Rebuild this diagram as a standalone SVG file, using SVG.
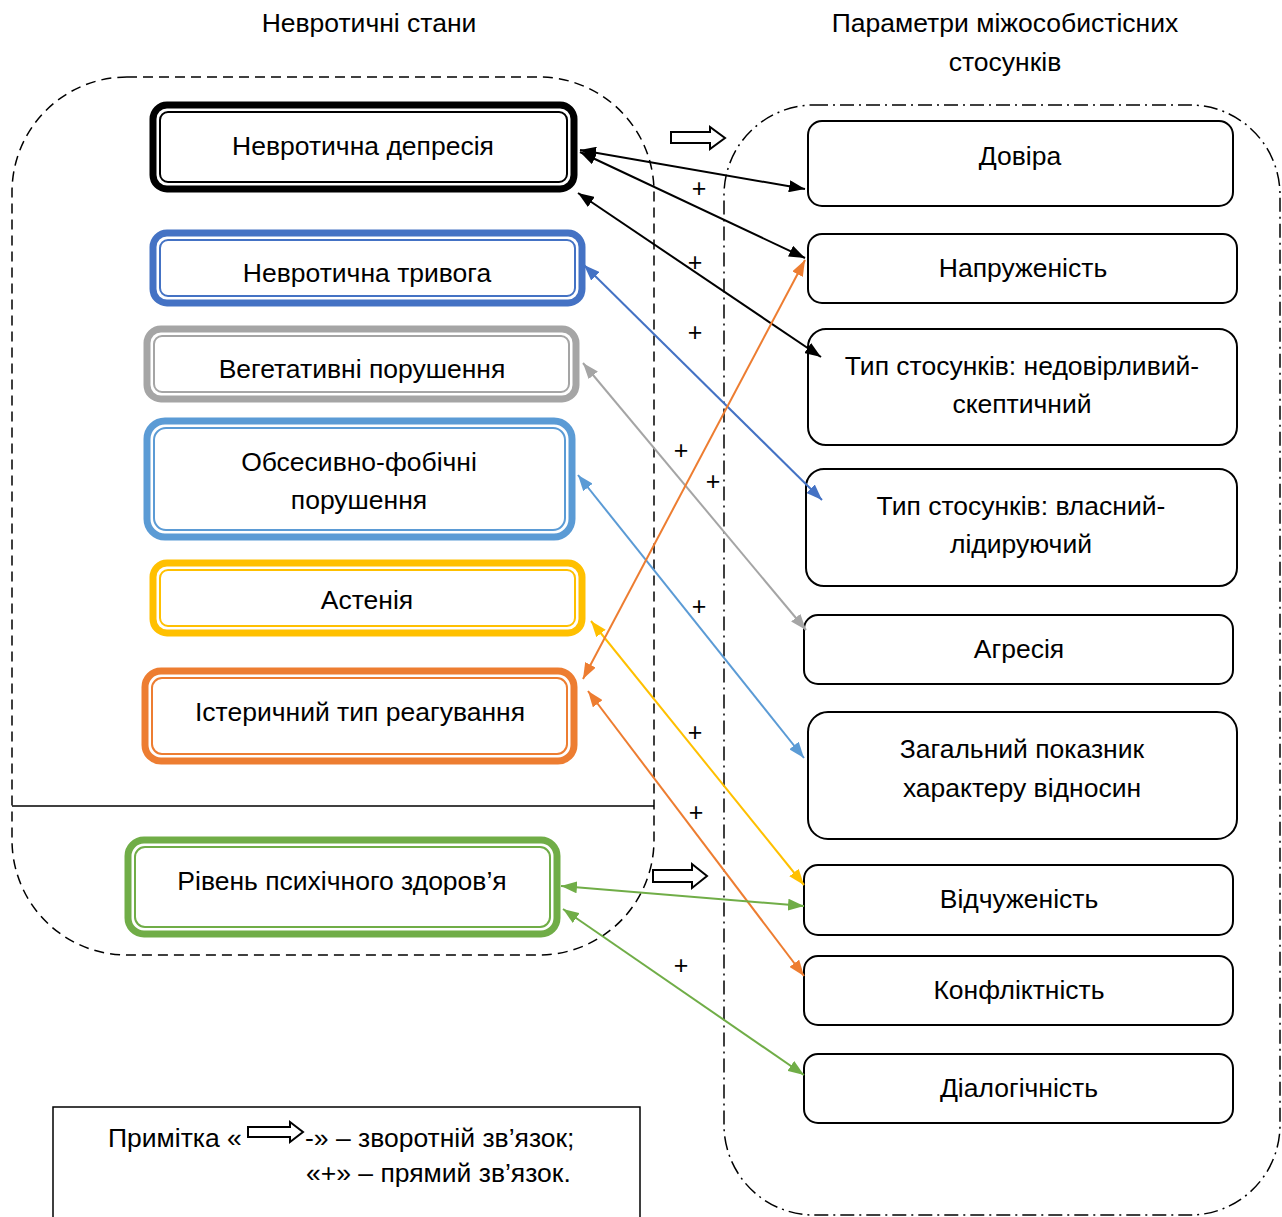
<svg xmlns="http://www.w3.org/2000/svg" width="1282" height="1217" viewBox="0 0 1282 1217">
<style>
text{font-family:"Liberation Sans",Arial,sans-serif;font-size:26.5px;fill:#000;text-anchor:middle}
.plus{font-size:25px}
.ob{fill:#fff;stroke-width:7}
.ib{fill:none;stroke-width:2}
.rn{fill:#fff;stroke:#000;stroke-width:2}
.c{fill:none;stroke-width:2}
.hollow{fill:#fff;stroke:#000;stroke-width:2}
</style>
<defs>
<marker id="mk" viewBox="0 0 16 12" refX="16" refY="6" markerWidth="16" markerHeight="12" markerUnits="userSpaceOnUse" orient="auto-start-reverse"><path d="M0,0 L16,6 L0,12 z" fill="#000"/></marker>
<marker id="mb" viewBox="0 0 16 12" refX="16" refY="6" markerWidth="16" markerHeight="12" markerUnits="userSpaceOnUse" orient="auto-start-reverse"><path d="M0,0 L16,6 L0,12 z" fill="#4472C4"/></marker>
<marker id="mg" viewBox="0 0 16 12" refX="16" refY="6" markerWidth="16" markerHeight="12" markerUnits="userSpaceOnUse" orient="auto-start-reverse"><path d="M0,0 L16,6 L0,12 z" fill="#A5A5A5"/></marker>
<marker id="ml" viewBox="0 0 16 12" refX="16" refY="6" markerWidth="16" markerHeight="12" markerUnits="userSpaceOnUse" orient="auto-start-reverse"><path d="M0,0 L16,6 L0,12 z" fill="#5B9BD5"/></marker>
<marker id="my" viewBox="0 0 16 12" refX="16" refY="6" markerWidth="16" markerHeight="12" markerUnits="userSpaceOnUse" orient="auto-start-reverse"><path d="M0,0 L16,6 L0,12 z" fill="#FFC000"/></marker>
<marker id="mo" viewBox="0 0 16 12" refX="16" refY="6" markerWidth="16" markerHeight="12" markerUnits="userSpaceOnUse" orient="auto-start-reverse"><path d="M0,0 L16,6 L0,12 z" fill="#ED7D31"/></marker>
<marker id="mgr" viewBox="0 0 16 12" refX="16" refY="6" markerWidth="16" markerHeight="12" markerUnits="userSpaceOnUse" orient="auto-start-reverse"><path d="M0,0 L16,6 L0,12 z" fill="#70AD47"/></marker>
</defs>
<rect width="1282" height="1217" fill="#fff"/>

<!-- titles -->
<text x="369" y="32">Невротичні стани</text>
<text x="1005" y="32">Параметри міжособистісних</text>
<text x="1005" y="71">стосунків</text>

<!-- containers -->
<g id="containers">
<rect x="12" y="77" width="642" height="878" rx="115" ry="115" fill="none" stroke="#000" stroke-width="1.5" stroke-dasharray="10 6"/>
<line x1="12" y1="806" x2="654" y2="806" stroke="#000" stroke-width="1.5"/>
<rect x="724" y="105" width="556" height="1110" rx="90" ry="90" fill="none" stroke="#000" stroke-width="1.5" stroke-dasharray="14 5 2 5"/>
</g>

<!-- left nodes -->
<g id="n-depresiia">
<rect class="ob" x="153" y="105" width="421" height="84" rx="14" stroke="#000" stroke-width="8"/>
<rect class="ib" x="160" y="112" width="407" height="70" rx="8" stroke="#000"/>
<text x="363" y="155">Невротична депресія</text>
</g>
<g id="n-tryvoha">
<rect class="ob" x="153" y="233" width="429" height="70" rx="14" stroke="#4472C4"/>
<rect class="ib" x="160" y="240" width="415" height="56" rx="8" stroke="#4472C4"/>
<text x="367" y="282">Невротична тривога</text>
</g>
<g id="n-vehetatyvni">
<rect class="ob" x="147" y="329" width="429" height="70" rx="14" stroke="#A5A5A5"/>
<rect class="ib" x="154" y="336" width="415" height="56" rx="8" stroke="#A5A5A5"/>
<text x="362" y="378">Вегетативні порушення</text>
</g>
<g id="n-obsesyvno">
<rect class="ob" x="147" y="421" width="425" height="116" rx="18" stroke="#5B9BD5"/>
<rect class="ib" x="154" y="428" width="411" height="102" rx="12" stroke="#5B9BD5"/>
<text x="359" y="471">Обсесивно-фобічні</text>
<text x="359" y="509">порушення</text>
</g>
<g id="n-asteniia">
<rect class="ob" x="153" y="563" width="429" height="70" rx="14" stroke="#FFC000"/>
<rect class="ib" x="160" y="570" width="415" height="56" rx="8" stroke="#FFC000"/>
<text x="367" y="609">Астенія</text>
</g>
<g id="n-isterychnyi">
<rect class="ob" x="145" y="671" width="429" height="90" rx="16" stroke="#ED7D31"/>
<rect class="ib" x="152" y="678" width="415" height="76" rx="10" stroke="#ED7D31"/>
<text x="360" y="721">Істеричний тип реагування</text>
</g>
<g id="n-riven">
<rect class="ob" x="128" y="840" width="429" height="94" rx="16" stroke="#70AD47" stroke-width="8"/>
<rect class="ib" x="135" y="847" width="415" height="80" rx="10" stroke="#70AD47"/>
<text x="342" y="890">Рівень психічного здоров’я</text>
</g>

<!-- right nodes -->
<g id="r-dovira"><rect class="rn" x="808" y="121" width="425" height="85" rx="14"/><text x="1020" y="165">Довіра</text></g>
<g id="r-napruzhenist"><rect class="rn" x="808" y="234" width="429" height="69" rx="14"/><text x="1023" y="277">Напруженість</text></g>
<g id="r-nedovirlyvyi"><rect class="rn" x="808" y="329" width="429" height="116" rx="18"/><text x="1022" y="375">Тип стосунків: недовірливий-</text><text x="1022" y="413">скептичний</text></g>
<g id="r-vlasnyi"><rect class="rn" x="806" y="469" width="431" height="117" rx="18"/><text x="1021" y="515">Тип стосунків: власний-</text><text x="1021" y="553">лідируючий</text></g>
<g id="r-ahresiia"><rect class="rn" x="804" y="615" width="429" height="69" rx="14"/><text x="1019" y="658">Агресія</text></g>
<g id="r-zahalnyi"><rect class="rn" x="808" y="712" width="429" height="127" rx="20"/><text x="1022" y="758">Загальний показник</text><text x="1022" y="797">характеру відносин</text></g>
<g id="r-vidchuzhenist"><rect class="rn" x="804" y="865" width="429" height="70" rx="14"/><text x="1019" y="908">Відчуженість</text></g>
<g id="r-konfliktnist"><rect class="rn" x="804" y="956" width="429" height="69" rx="14"/><text x="1019" y="999">Конфліктність</text></g>
<g id="r-dialohichnist"><rect class="rn" x="804" y="1054" width="429" height="69" rx="14"/><text x="1019" y="1097">Діалогічність</text></g>

<!-- connectors -->
<g id="connectors">
<line class="c" stroke="#000" x1="580" y1="150" x2="805" y2="189" marker-start="url(#mk)" marker-end="url(#mk)"/>
<line class="c" stroke="#000" x1="580" y1="152" x2="805" y2="258" marker-start="url(#mk)" marker-end="url(#mk)"/>
<line class="c" stroke="#000" x1="578" y1="193" x2="821" y2="357" marker-start="url(#mk)" marker-end="url(#mk)"/>
<line class="c" stroke="#4472C4" x1="584" y1="265" x2="822" y2="500" marker-start="url(#mb)" marker-end="url(#mb)"/>
<line class="c" stroke="#A5A5A5" x1="583" y1="363" x2="806" y2="630" marker-start="url(#mg)" marker-end="url(#mg)"/>
<line class="c" stroke="#5B9BD5" x1="578" y1="475" x2="804" y2="758" marker-start="url(#ml)" marker-end="url(#ml)"/>
<line class="c" stroke="#FFC000" x1="591" y1="621" x2="804" y2="885" marker-start="url(#my)" marker-end="url(#my)"/>
<line class="c" stroke="#ED7D31" x1="583" y1="679" x2="805" y2="260" marker-start="url(#mo)" marker-end="url(#mo)"/>
<line class="c" stroke="#ED7D31" x1="588" y1="691" x2="804" y2="976" marker-start="url(#mo)" marker-end="url(#mo)"/>
<line class="c" stroke="#70AD47" x1="561" y1="886" x2="804" y2="906" marker-start="url(#mgr)" marker-end="url(#mgr)"/>
<line class="c" stroke="#70AD47" x1="563" y1="909" x2="804" y2="1075" marker-start="url(#mgr)" marker-end="url(#mgr)"/>
<path class="hollow" d="M671,132 H710 V127 L725,138 L710,149 V143 H671 Z"/>
<path class="hollow" d="M653,870 H692 V864 L707,876 L692,888 V882 H653 Z"/>
</g>

<!-- plus labels -->
<g id="labels">
<text class="plus" x="699" y="197">+</text>
<text class="plus" x="695" y="271">+</text>
<text class="plus" x="695" y="341">+</text>
<text class="plus" x="681" y="459">+</text>
<text class="plus" x="713" y="490">+</text>
<text class="plus" x="699" y="615">+</text>
<text class="plus" x="695" y="741">+</text>
<text class="plus" x="696" y="821">+</text>
<text class="plus" x="681" y="974">+</text>
</g>

<!-- legend -->
<g id="legend">
<rect x="53" y="1107" width="587" height="120" fill="none" stroke="#000" stroke-width="1.5"/>
<text x="108" y="1147" style="text-anchor:start">Примітка «</text>
<path class="hollow" d="M248,1127 H290 V1122 L303,1132 L290,1142 V1137 H248 Z" stroke-width="1.5"/>
<text x="305" y="1147" style="text-anchor:start">-» – зворотній зв’язок;</text>
<text x="306" y="1182" style="text-anchor:start">«+» – прямий зв’язок.</text>
</g>
</svg>
